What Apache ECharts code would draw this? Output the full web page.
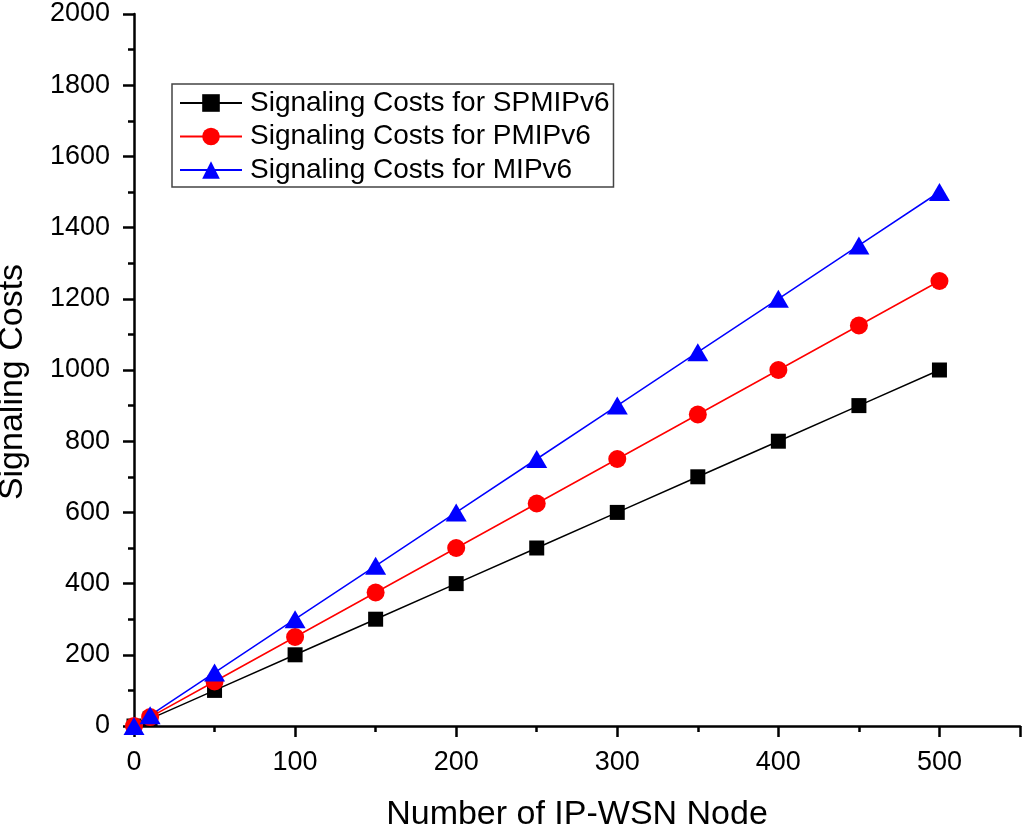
<!DOCTYPE html>
<html><head><meta charset="utf-8">
<script src="https://cdn.jsdelivr.net/npm/echarts@6/dist/echarts.min.js"></script>
<style>html,body{margin:0;padding:0;background:#fff}#c{width:1024px;height:826px}</style>
</head><body><div id="c"></div>
<script>
const xValues = [0, 10, 50, 100, 150, 200, 250, 300, 350, 400, 450, 500];
const spmipv6 = [0, 20, 100, 200, 300, 400, 500, 600, 700, 800, 900, 1000];
const pmipv6 = [0, 25, 125, 250, 375, 500, 625, 750, 875, 1000, 1125, 1250];
const mipv6 = [0, 30, 150, 300, 450, 600, 750, 900, 1050, 1200, 1350, 1500];
const seriesNames = ['Signaling Costs for SPMIPv6', 'Signaling Costs for PMIPv6', 'Signaling Costs for MIPv6'];

const pair = arr => xValues.map((x, i) => [x, arr[i]]);
const font = 'Liberation Sans, Arial, sans-serif';
const chart = echarts.init(document.getElementById('c'));
const axisCommon = {
  axisLine: {show: true, lineStyle: {color: '#000', width: 2.5}},
  axisTick: {show: true, inside: false, length: 11, lineStyle: {color: '#000', width: 2.5}},
  minorTick: {show: true, splitNumber: 2, length: 6, lineStyle: {color: '#000', width: 2.5}},
  splitLine: {show: false},
  axisLabel: {color: '#000', fontSize: 27, fontFamily: font, formatter: v => String(v)},
  nameTextStyle: {color: '#000', fontSize: 34, fontFamily: font},
  nameLocation: 'middle'
};
chart.setOption({
  animation: false,
  backgroundColor: '#fff',
  grid: {left: 134, right: 4, top: 14, bottom: 100, containLabel: false, outerBoundsMode: 'none'},
  legend: {
    orient: 'vertical', left: 172, top: 84,
    itemWidth: 62, itemHeight: 22, itemGap: 5.5,
    padding: [5, 4, 3, 7],
    borderColor: '#444', borderWidth: 1.5,
    textStyle: {color: '#000', fontSize: 28, fontFamily: font, padding: [0, 0, 0, 3]},
    data: seriesNames
  },
  xAxis: Object.assign({}, axisCommon, {
    type: 'value', min: 0, max: 550, interval: 100,
    name: 'Number of IP-WSN Node', nameGap: 72,
    axisLabel: Object.assign({}, axisCommon.axisLabel, {showMaxLabel: false, margin: 23})
  }),
  yAxis: Object.assign({}, axisCommon, {
    type: 'value', min: 0, max: 2000, interval: 200,
    name: 'Signaling Costs', nameGap: 104,
    nameTextStyle: Object.assign({}, axisCommon.nameTextStyle, {padding: [0, 24, 0, 0]}),
    axisLabel: Object.assign({}, axisCommon.axisLabel, {margin: 24})
  }),
  series: [
    {name: seriesNames[0], type: 'line', data: pair(spmipv6), symbol: 'rect', symbolSize: 15,
     itemStyle: {color: '#000'}, lineStyle: {color: '#000', width: 1.5}},
    {name: seriesNames[1], type: 'line', data: pair(pmipv6), symbol: 'circle', symbolSize: 18,
     itemStyle: {color: '#ff0000'}, lineStyle: {color: '#ff0000', width: 1.5}},
    {name: seriesNames[2], type: 'line', data: pair(mipv6), symbol: 'triangle', symbolSize: [21, 18],
     itemStyle: {color: '#0000ff'}, lineStyle: {color: '#0000ff', width: 1.5}}
  ]
});
</script></body></html>
